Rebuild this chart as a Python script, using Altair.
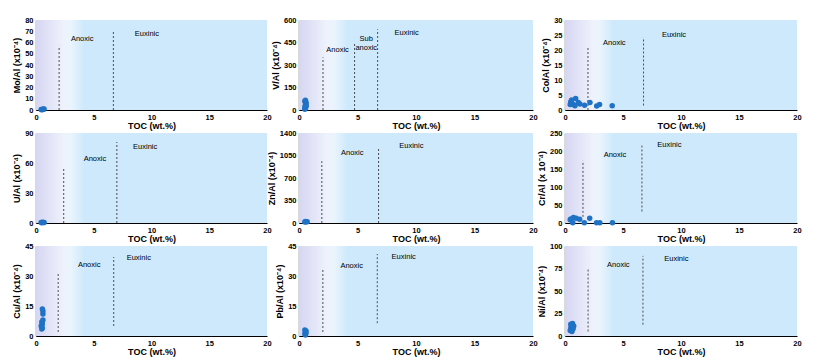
import altair as alt
import pandas as pd

# ---------------- data ----------------
X_TICKS = [0, 5, 10, 15, 20]

MO_X = [0.45, 0.55, 0.6, 0.7, 0.5, 0.65]
MO_Y = [0.4, 0.6, 0.5, 0.8, 0.3, 0.7]
V_X = [0.5, 0.55, 0.5, 0.6, 0.55, 0.6, 0.6, 0.5, 0.55, 0.6]
V_Y = [5, 12, 20, 28, 35, 42, 50, 58, 65, 25]
CO_X = [0.49, 0.69, 0.92, 0.86, 1.15, 1.29, 1.69, 2.15, 2.73, 2.98, 4.07, 0.57, 0.45]
CO_Y = [2.7, 1.9, 3.8, 1.4, 2.5, 2.0, 1.6, 2.5, 1.3, 1.85, 1.4, 3.3, 1.8]
U_X = [0.45, 0.55, 0.65, 0.5, 0.7]
U_Y = [0.5, 0.8, 0.6, 0.3, 0.4]
ZN_X = [0.5, 0.6, 0.7, 0.55]
ZN_Y = [15, 20, 18, 25]
CR_X = [0.5, 0.73, 0.96, 1.26, 0.67, 1.66, 2.13, 2.72, 3.0, 4.09, 0.45]
CR_Y = [11, 15, 13, 10.5, 0.5, 0.5, 13, 0.5, 0.5, 0.5, 9]
CU_X = [0.5, 0.45, 0.55, 0.5, 0.6, 0.55, 0.6, 0.6, 0.55]
CU_Y = [3.5, 5, 6, 7, 8, 4, 11, 12.5, 13.5]
PB_X = [0.5, 0.55, 0.6, 0.5, 0.6, 0.55]
PB_Y = [1, 2, 2.5, 3, 1.5, 0.5]
NI_X = [0.45, 0.5, 0.55, 0.65, 0.75, 0.7, 0.6, 0.5]
NI_Y = [6, 9, 12, 14, 11, 8, 5, 13]

# panel titles, y maxima and tick values
TITLES = ["Mo/Al (x10⁻⁴)", "V/Al (x10⁻⁴)", "Co/Al (x10⁻⁴)",
          "U/Al (x10⁻⁴)", "Zn/Al (x10⁻⁴)", "Cr/Al (x 10⁻⁴)",
          "Cu/Al (x10⁻⁴)", "Pb/Al (x10⁻⁴)", "Ni/Al (x10⁻⁴)"]
Y_TICKS = [[0, 10, 20, 30, 40, 50, 60, 70, 80],
           [0, 150, 300, 450, 600],
           [0, 5, 10, 15, 20, 25, 30],
           [0, 30, 60, 90],
           [0, 350, 700, 1050, 1400],
           [0, 50, 100, 150, 200, 250],
           [0, 15, 30, 45],
           [0, 15, 30, 45],
           [0, 25, 50, 75, 100]]
POINTS_X = [MO_X, V_X, CO_X, U_X, ZN_X, CR_X, CU_X, PB_X, NI_X]
POINTS_Y = [MO_Y, V_Y, CO_Y, U_Y, ZN_Y, CR_Y, CU_Y, PB_Y, NI_Y]

# dashed boundary lines: x, y-start, y-end
LINE_X = [[2.0, 6.7], [2.05, 4.75, 6.72], [1.98, 6.77], [2.4, 7.0], [1.95, 6.8],
          [1.55, 6.63], [1.92, 6.73], [2.04, 6.69], [1.99, 6.72]]
LINE_Y1 = [[0, 0], [0, 0, 0], [0, 1.5], [0, 0], [0, 0],
           [17, 32], [2, 5], [2, 6.4], [5, 12.6]]
LINE_Y2 = [[57, 70], [351, 449, 538], [21, 24.2], [54, 81], [961, 1167],
           [173, 215], [31, 39.5], [33.6, 41], [74, 89]]

# zone labels
LABEL_TEXT = [["Anoxic", "Euxinic"], ["Anoxic", "Sub", "anoxic", "Euxinic"],
              ["Anoxic", "Euxinic"], ["Anoxic", "Euxinic"], ["Anoxic", "Euxinic"],
              ["Anoxic", "Euxinic"], ["Anoxic", "Euxinic"], ["Anoxic", "Euxinic"],
              ["Anoxic", "Euxinic"]]
LABEL_X = [[4.0, 9.6], [3.3, 5.75, 5.75, 9.2], [4.25, 9.4], [5.1, 9.45], [4.55, 9.6],
           [4.3, 9.0], [4.6, 8.9], [4.5, 8.95], [4.6, 9.6]]
LABEL_Y = [[63, 68], [400, 476, 416, 513], [22.4, 25], [64, 76], [1095, 1204],
           [190, 217], [35.7, 39.2], [35, 39.6], [79, 86]]

WIDTHS = [231, 234, 232]
HEIGHT = 90

FONT = "Liberation Sans"
POINT_COLOR = "#1f72c4"
GRADIENT = alt.LinearGradient(
    gradient="linear", x1=0, x2=1, y1=0, y2=0,
    stops=[alt.GradientStop(offset=0, color="#d6d6f2"),
           alt.GradientStop(offset=0.12, color="#eef2fc"),
           alt.GradientStop(offset=0.15, color="#eaf4fd"),
           alt.GradientStop(offset=0.21, color="#cde9fb"),
           alt.GradientStop(offset=1, color="#cde9fb")])


def panel(i):
    ymax = Y_TICKS[i][-1]
    xs = alt.Scale(domain=[0, 20], nice=False, zero=False)
    ys = alt.Scale(domain=[0, ymax], nice=False, zero=False)
    xax = alt.Axis(values=X_TICKS, tickSize=0, labelFlush=False, grid=False,
                   labelFontSize=7.5, labelFontWeight="bold", labelPadding=3,
                   titleFontSize=9, titleFontWeight="bold", titlePadding=1,
                   domainColor="black", domainWidth=1, labelColor="black", titleColor="black")
    yax = alt.Axis(values=Y_TICKS[i], format="d", tickSize=0, grid=False, labelFlush=False,
                   labelFontSize=7.5, labelFontWeight="bold", labelPadding=3,
                   titleFontSize=9, titleFontWeight="bold", titlePadding=3,
                   domainColor="black", domainWidth=1.3, labelColor="black", titleColor="black")
    X = lambda: alt.X("x:Q", scale=xs, axis=xax, title="TOC (wt.%)")
    Y = lambda: alt.Y("y:Q", scale=ys, axis=yax, title=TITLES[i])

    bg = alt.Chart(pd.DataFrame({"x": [0], "x2": [20], "y": [0], "y2": [ymax]})).mark_rect(
        color=GRADIENT).encode(x=X(), x2="x2:Q", y=Y(), y2="y2:Q")

    lines = alt.Chart(pd.DataFrame({"x": LINE_X[i], "y": LINE_Y1[i], "y2": LINE_Y2[i]})).mark_rule(
        color="#4d4d4d", strokeDash=[2, 2], strokeWidth=1).encode(x=X(), y=Y(), y2="y2:Q")

    labels = alt.Chart(pd.DataFrame({"x": LABEL_X[i], "y": LABEL_Y[i], "t": LABEL_TEXT[i]})).mark_text(
        font=FONT, fontSize=7.5, color="#000000").encode(x=X(), y=Y(), text="t:N")

    pts = alt.Chart(pd.DataFrame({"x": POINTS_X[i], "y": POINTS_Y[i]})).mark_circle(
        size=30, color=POINT_COLOR, opacity=1).encode(x=X(), y=Y())

    return alt.layer(bg, lines, labels, pts).properties(width=WIDTHS[i % 3], height=HEIGHT)


chart = alt.concat(*[panel(i) for i in range(9)], columns=3,
                   spacing={"row": 23, "column": 32}, bounds="flush", align="each").properties(
    padding={"left": 4, "top": 8, "right": 2, "bottom": 2}
).configure(font=FONT, background="white").configure_view(strokeWidth=0)

chart.save("out.html", embed_options={"renderer": "svg", "actions": False})
